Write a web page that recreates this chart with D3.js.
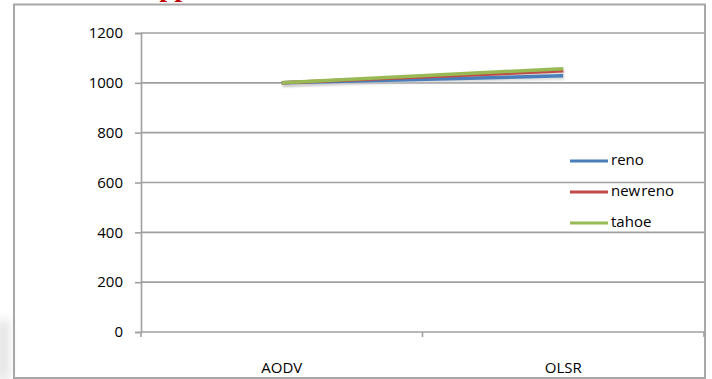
<!DOCTYPE html>
<html>
<head>
<meta charset="utf-8">
<script src="https://cdn.jsdelivr.net/npm/d3@7/dist/d3.min.js"></script>
<style>
  html, body { margin: 0; padding: 0; background: #fff; }
  svg { display: block; }
  text { font-family: "Open Sans", "DejaVu Sans", sans-serif; fill: #000; }
</style>
</head>
<body>
<svg id="chart" width="712" height="379"></svg>
<script>
// Throughput per routing protocol for three TCP variants
const categories = ["AODV", "OLSR"];
const renoValues = [1000, 1028];
const newRenoValues = [1000, 1048];
const tahoeValues = [1000, 1057];
const yTicks = [0, 200, 400, 600, 800, 1000, 1200];
const seriesNames = ["reno", "new reno", "tahoe"];
const seriesColors = ["#4a7ebb", "#be4b48", "#98b954"];

const series = [
  { name: seriesNames[0], values: renoValues, color: seriesColors[0] },
  { name: seriesNames[1], values: newRenoValues, color: seriesColors[1] },
  { name: seriesNames[2], values: tahoeValues, color: seriesColors[2] }
];

const svg = d3.select("#chart");
const frameColor = "#a8a8a8";
const gridColor = "#a0a0a0";

// faint grey smudge on the lower left edge
const defs = svg.append("defs");
const blur = defs.append("filter").attr("id", "soft").attr("x", "-50%").attr("y", "-50%").attr("width", "200%").attr("height", "200%");
blur.append("feGaussianBlur").attr("stdDeviation", 5);
svg.append("rect").attr("x", -4).attr("y", 320).attr("width", 14).attr("height", 60)
  .attr("fill", "#e6e6e6").attr("filter", "url(#soft)");

// caption above the chart, mostly cut off
svg.append("text")
  .attr("x", 140).attr("y", -4)
  .style("font-family", "'Liberation Serif', 'DejaVu Serif', serif")
  .style("font-weight", "bold").style("font-size", "27px")
  .style("fill", "#c00000")
  .text("Applications");

// chart frame
svg.append("rect").attr("x", 14).attr("y", 4.5).attr("width", 691).attr("height", 373.5)
  .attr("fill", "none").attr("stroke", frameColor).attr("stroke-width", 2);

const plot = { left: 141, right: 704, top: 33, bottom: 332 };

const x = d3.scaleBand().domain(categories).range([plot.left, plot.right]);
const y = d3.scaleLinear().domain([0, 1200]).range([plot.bottom, plot.top]);
const cx = d => x(d) + x.bandwidth() / 2;

// horizontal gridlines
svg.append("g").selectAll("line").data(yTicks.filter(t => t > 0)).join("line")
  .attr("x1", plot.left).attr("x2", plot.right)
  .attr("y1", d => y(d)).attr("y2", d => y(d))
  .attr("stroke", gridColor).attr("stroke-width", 1.6);

// y axis
const yAxis = svg.append("g").attr("transform", `translate(${plot.left},0)`)
  .call(d3.axisLeft(y).tickValues(yTicks).tickSize(6).tickPadding(12).tickFormat(d3.format("d")));
yAxis.select(".domain").attr("stroke", gridColor).attr("stroke-width", 1.6);
yAxis.selectAll(".tick line").attr("stroke", gridColor).attr("stroke-width", 1.6);
yAxis.selectAll("text").style("font-size", "15px").attr("fill", "#000");

// x axis with boundary ticks between categories
const xg = svg.append("g").attr("transform", `translate(0,${plot.bottom})`);
xg.append("line").attr("x1", plot.left).attr("x2", plot.right)
  .attr("stroke", gridColor).attr("stroke-width", 1.6);
const bounds = categories.map(c => x(c)).concat([x(categories[categories.length - 1]) + x.bandwidth()]);
xg.selectAll("line.tk").data(bounds).join("line").attr("class", "tk")
  .attr("x1", d => d).attr("x2", d => d).attr("y1", 0).attr("y2", 5)
  .attr("stroke", gridColor).attr("stroke-width", 1.6);
xg.selectAll("text").data(categories).join("text")
  .attr("x", d => cx(d)).attr("y", 37)
  .attr("text-anchor", "middle").attr("dominant-baseline", "middle")
  .style("font-size", "15px").text(d => d);

// series lines with a faint shadow
const line = d3.line().x((d, i) => cx(categories[i])).y(d => y(d));
const shadow = defs.append("filter").attr("id", "shadow").attr("x", "-10%").attr("y", "-50%").attr("width", "120%").attr("height", "200%");
shadow.append("feGaussianBlur").attr("stdDeviation", 1.2);
svg.append("g").selectAll("path").data(series).join("path")
  .attr("d", d => line(d.values))
  .attr("fill", "none").attr("stroke", "#c8c8c8").attr("stroke-width", 4)
  .attr("transform", "translate(1,2)").attr("filter", "url(#shadow)").attr("opacity", 0.6);
svg.append("g").selectAll("path").data(series).join("path")
  .attr("d", d => line(d.values))
  .attr("fill", "none").attr("stroke", d => d.color).attr("stroke-width", 3.5)
  .attr("stroke-linecap", "butt");

// legend
const legend = svg.append("g").selectAll("g").data(series).join("g")
  .attr("transform", (d, i) => `translate(570,${161 + i * 31})`);
legend.append("line").attr("x1", 0).attr("x2", 38).attr("y1", 0).attr("y2", 0)
  .attr("stroke", d => d.color).attr("stroke-width", 3);
legend.append("text").attr("x", 41).attr("y", 0).attr("dominant-baseline", "middle")
  .style("font-size", "15px").style("word-spacing", "-3px").text(d => d.name);
</script>
</body>
</html>
